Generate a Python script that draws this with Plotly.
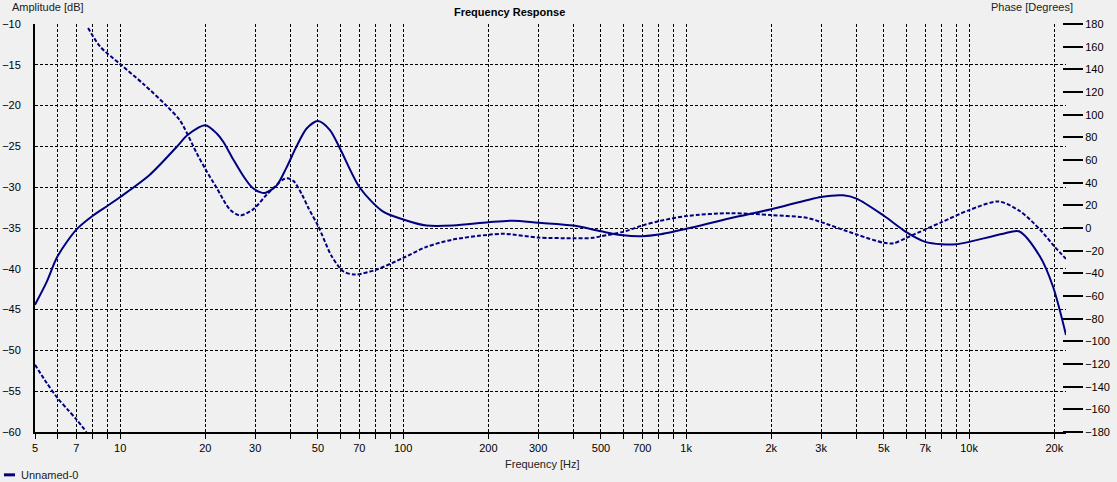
import math

import plotly.graph_objects as go

# Amplitude curve (solid, left axis, dB)
mag_freq = [5, 5.5, 6, 7, 8, 9, 10, 12.7, 15.8, 17.3, 20, 21.9, 23.1, 25.1, 27.2, 29.2,
            31.2, 32.5, 35.7, 38.7, 42, 45.6, 50, 55.1, 60.1, 70.4, 85, 100, 121, 150,
            200, 245, 300, 400, 500, 600, 700, 800, 1000, 1430, 2000, 3000, 3590, 4000,
            5000, 6000, 7000, 8000, 9000, 10000, 13200, 15000, 17800, 19800, 22000]
mag_db = [-44.4, -41.6, -38.5, -35.2, -33.5, -32.3, -31.2, -28.5, -25.1, -23.6, -22.4,
          -23.4, -24.4, -26.6, -28.6, -30.0, -30.6, -30.7, -29.8, -27.6, -25.0, -22.8,
          -21.9, -23.0, -25.4, -30.1, -33.0, -33.95, -34.7, -34.7, -34.3, -34.1, -34.35,
          -34.7, -35.4, -35.9, -36.0, -35.8, -35.1, -33.8, -32.7, -31.2, -31.0, -31.4,
          -33.5, -35.5, -36.7, -37.0, -37.0, -36.7, -35.7, -35.4, -38.5, -42.2, -48.1]

# Phase curve (dashed, right axis, degrees) - wraps at -180 near 7.6 Hz
phase_low_freq = [5, 5.5, 6, 6.5, 7, 7.6]
phase_low_deg = [-120.7, -136.7, -149.9, -159.8, -168.8, -180]
phase_freq = [7.7, 8.5, 10, 12.1, 14.6, 16.3, 18.6, 20, 21.9, 24.4, 26.5, 29.5, 33,
              37.7, 39, 41, 43.8, 46.2, 50.1, 55.9, 61.4, 67.6, 80.5, 100, 121, 150, 200,
              228, 300, 400, 470, 500, 600, 700, 800, 1000, 1430, 2000, 2666, 3000, 4000,
              5000, 5400, 6000, 7000, 8000, 10000, 12700, 15100, 17800, 20000, 22000]
phase_deg = [176.5, 160, 144.6, 126.9, 107.7, 94.5, 66.5, 52, 35.6, 16.4, 11.1, 16.4,
             29.6, 42.9, 43.8, 41.4, 30, 17.9, 1.6, -24.9, -38.2, -41.1, -36.7, -26.4,
             -16.6, -10.2, -6.0, -5.1, -8.4, -9.0, -8.7, -7.3, -3.4, 2.2, 6.0, 10.5, 13.1,
             11.4, 9.0, 5.2, -5.7, -13.1, -13.5, -8.7, -1.3, 5.2, 15.8, 23.4, 15.0, -1.3,
             -16.1, -27.3]

# x grid / tick positions, labelled ones only
grid_freqs = [m * 10 ** e for e in range(0, 5) for m in range(1, 10)]
grid_freqs = [f for f in grid_freqs if 5 <= f <= 20000]
x_labels = {5: "5", 7: "7", 10: "10", 20: "20", 30: "30", 50: "50", 70: "70",
            100: "100", 200: "200", 300: "300", 500: "500", 700: "700",
            1000: "1k", 2000: "2k", 3000: "3k", 5000: "5k", 7000: "7k",
            10000: "10k", 20000: "20k"}

NAVY = "#000080"
BG = "#F0F0F0"
FONT = "Liberation Sans"

fig = go.Figure()
fig.add_trace(go.Scatter(
    x=mag_freq, y=mag_db, mode="lines", name="Unnamed-0", showlegend=False,
    line=dict(color=NAVY, width=2, shape="spline", smoothing=0.8),
))
fig.add_trace(go.Scatter(
    x=phase_low_freq + [None] + phase_freq,
    y=phase_low_deg + [None] + phase_deg,
    mode="lines", yaxis="y2", showlegend=False,
    line=dict(color=NAVY, width=2, dash="4px,2px", shape="spline", smoothing=0.8),
))

fig.update_layout(
    width=1117, height=482, autosize=False,
    margin=dict(l=35, r=51, t=24, b=50, autoexpand=False),
    paper_bgcolor=BG, plot_bgcolor=BG,
    font=dict(family=FONT, size=11, color="#000000"),
    xaxis=dict(
        type="log", range=[math.log10(5), math.log10(22000)],
        tickvals=grid_freqs,
        ticktext=[x_labels.get(f, "") for f in grid_freqs],
        showgrid=True, gridcolor="#000000", gridwidth=1, griddash="3px,2px",
        ticks="outside", ticklen=5, tickcolor="#000000",
        showline=True, linecolor="#000000", linewidth=2,
        zeroline=False, automargin=False,
    ),
    yaxis=dict(
        range=[-60, -10], dtick=5,
        showgrid=True, gridcolor="#000000", gridwidth=1, griddash="3px,2px",
        showline=True, linecolor="#000000", linewidth=2,
        ticklabelstandoff=10, zeroline=False, automargin=False,
    ),
    yaxis2=dict(
        range=[-180, 180], dtick=20, overlaying="y", side="right",
        anchor="free", position=0.9961,
        showgrid=False, showline=False, zeroline=False,
        ticks="outside", ticklen=20, tickwidth=2, tickcolor="#000000",
        automargin=False,
    ),
    showlegend=False,
)

# axis titles placed like the original instrument software
fig.add_annotation(text="Amplitude [dB]", xref="paper", yref="paper",
                   x=-0.024, y=1.042, xanchor="left", yanchor="middle",
                   showarrow=False, font=dict(size=11, color="#222222"))
fig.add_annotation(text="Phase [Degrees]", xref="paper", yref="paper",
                   x=1.0087, y=1.042, xanchor="right", yanchor="middle",
                   showarrow=False, font=dict(size=11, color="#222222"))
fig.add_annotation(text="<b>Frequency Response</b>", xref="paper", yref="paper",
                   x=0.460, y=1.029, xanchor="center", yanchor="middle",
                   showarrow=False, font=dict(size=11, color="#000000"))
fig.add_annotation(text="Frequency [Hz]", xref="paper", yref="paper",
                   x=0.4918, y=-0.078, xanchor="center", yanchor="middle",
                   showarrow=False, font=dict(size=11, color="#222222"))

# legend entry drawn the way the original shows it: short line + name
fig.add_shape(type="line", xref="paper", yref="paper", x0=-0.0301, x1=-0.0194,
              y0=-0.105, y1=-0.105, line=dict(color=NAVY, width=3))
fig.add_annotation(text="Unnamed-0", xref="paper", yref="paper",
                   x=-0.0155, y=-0.105, xanchor="left", yanchor="middle",
                   showarrow=False, font=dict(size=11, color="#222222"))

# bottom axis line runs on under the phase ticks
fig.add_shape(type="line", xref="paper", yref="paper", x0=1.0, x1=1.0155, y0=0, y1=0,
              line=dict(color="#000000", width=2))

# drop the browser's default 8px body margin so the figure fills the window
fig.write_html("out.html", config={"displayModeBar": False},
               post_script="document.body.style.margin = '0';")
